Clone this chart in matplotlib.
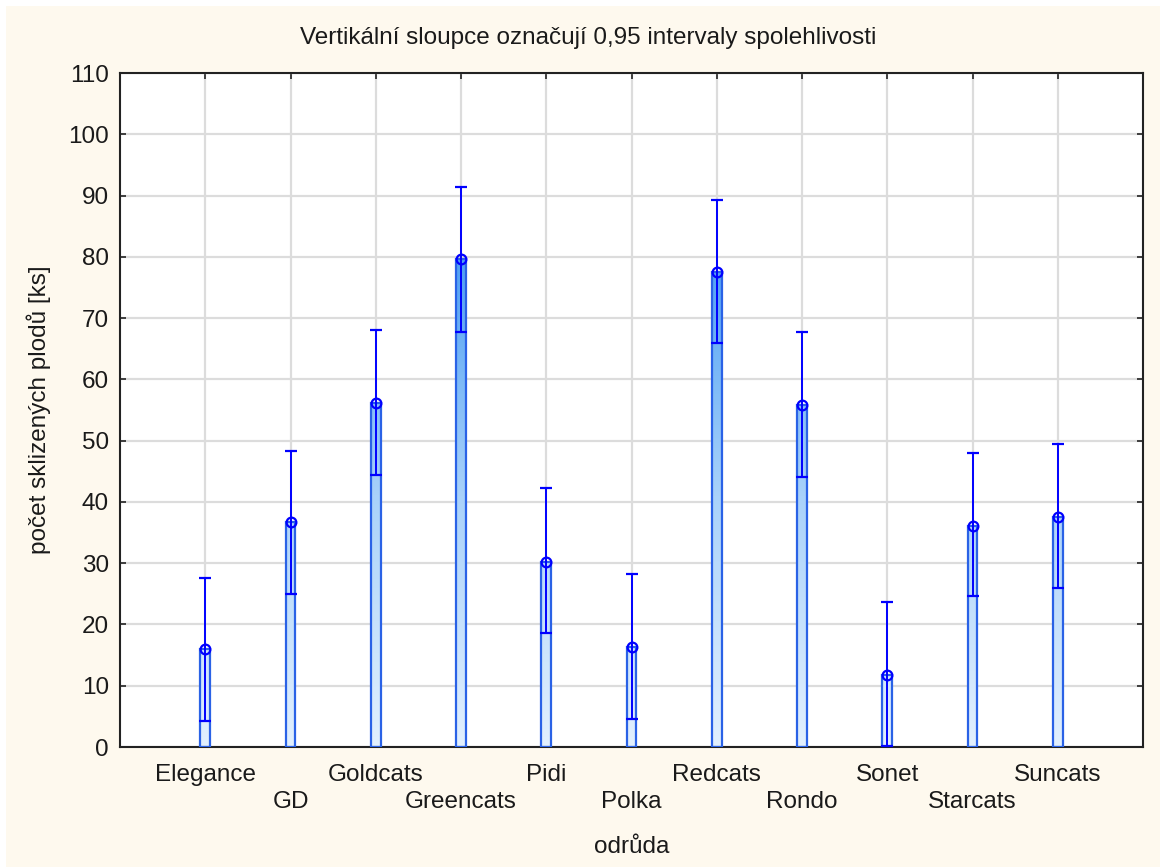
import numpy as np
import matplotlib.pyplot as plt
from matplotlib.patches import Rectangle
from matplotlib.colors import LinearSegmentedColormap

plt.rcParams['font.family'] = ['Liberation Sans', 'DejaVu Sans']

# data
odrudy = ['Elegance', 'GD', 'Goldcats', 'Greencats', 'Pidi', 'Polka',
          'Redcats', 'Rondo', 'Sonet', 'Starcats', 'Suncats']
prumer = [16.0, 36.7, 56.2, 79.6, 30.2, 16.4, 77.5, 55.8, 11.7, 36.1, 37.6]
horni = [27.6, 48.3, 68.0, 91.4, 42.2, 28.2, 89.3, 67.7, 23.6, 48.0, 49.5]
dolni = [4.3, 25.0, 44.4, 67.7, 18.6, 4.5, 66.0, 44.0, 0.2, 24.6, 25.9]

W, H = 1160, 867
fig = plt.figure(figsize=(W / 100, H / 100), dpi=100, facecolor='white')
# cream panel behind the chart
fig.patches.append(Rectangle((6 / W, 0), 1, (H - 6) / H, transform=fig.transFigure,
                             facecolor='#fef9ee', edgecolor='none', zorder=-10))

ax = fig.add_axes([120 / W, (H - 747) / H, (1143 - 120) / W, (747 - 73) / H])
ax.set_facecolor('white')

x = np.arange(len(odrudy))
sirka = 0.115
cmap = LinearSegmentedColormap.from_list('modra', ['#e2f0fe', '#a9d2fa', '#4b9ef3'])

for xi, m in zip(x, prumer):
    grad = np.linspace(0, m, 200).reshape(-1, 1)
    ax.imshow(grad, cmap=cmap, vmin=0, vmax=82, origin='lower', aspect='auto',
              extent=(xi - sirka / 2, xi + sirka / 2, 0, m), zorder=2, interpolation='bilinear')
    ax.add_patch(Rectangle((xi - sirka / 2, 0), sirka, m, facecolor='none',
                           edgecolor='#2a62e6', linewidth=1.6, zorder=3))

p = np.array(prumer)
err = [p - np.array(dolni), np.array(horni) - p]
ax.errorbar(x, p, yerr=err, fmt='o', color='#0000ff', mfc='none', mec='#0000ff',
            ms=7, mew=1.6, elinewidth=1.4, capsize=4, capthick=1.4, zorder=4)

ax.set_xlim(-1, 11)
ax.set_ylim(0, 110)
ax.set_yticks(np.arange(0, 111, 10))
ax.set_xticks(x)
# first row: even categories; second row (staggered) goes on a secondary axis
ax.set_xticklabels([n if i % 2 == 0 else '' for i, n in enumerate(odrudy)])

ax.grid(True, color='#dcdcdc', linewidth=1.6, zorder=0)
ax.set_axisbelow(True)
for s in ax.spines.values():
    s.set_color('#222222')
    s.set_linewidth(1.5)
ax.tick_params(direction='in', length=4, width=1.2, colors='#222222',
               top=True, right=True, labelsize=17.5, labelcolor='#1a1a1a')
ax.tick_params(axis='x', pad=12)
ax.tick_params(axis='y', pad=8)

sec = ax.secondary_xaxis('bottom')
sec.set_xticks(x[1::2])
sec.set_xticklabels(odrudy[1::2])
sec.tick_params(length=0, pad=32, labelsize=17.5, labelcolor='#1a1a1a')
sec.spines['bottom'].set_visible(False)

sec.set_xlabel('odrůda', fontsize=17.5, color='#1a1a1a', labelpad=16)
ax.set_ylabel('počet sklizených plodů [ks]', fontsize=17.5, color='#1a1a1a', labelpad=12)
fig.text(588 / W, 1 - 38 / H, 'Vertikální sloupce označují 0,95 intervaly spolehlivosti',
         ha='center', va='center', fontsize=17.5, color='#1a1a1a')

fig.savefig('out.png', dpi=100, facecolor=fig.get_facecolor())
